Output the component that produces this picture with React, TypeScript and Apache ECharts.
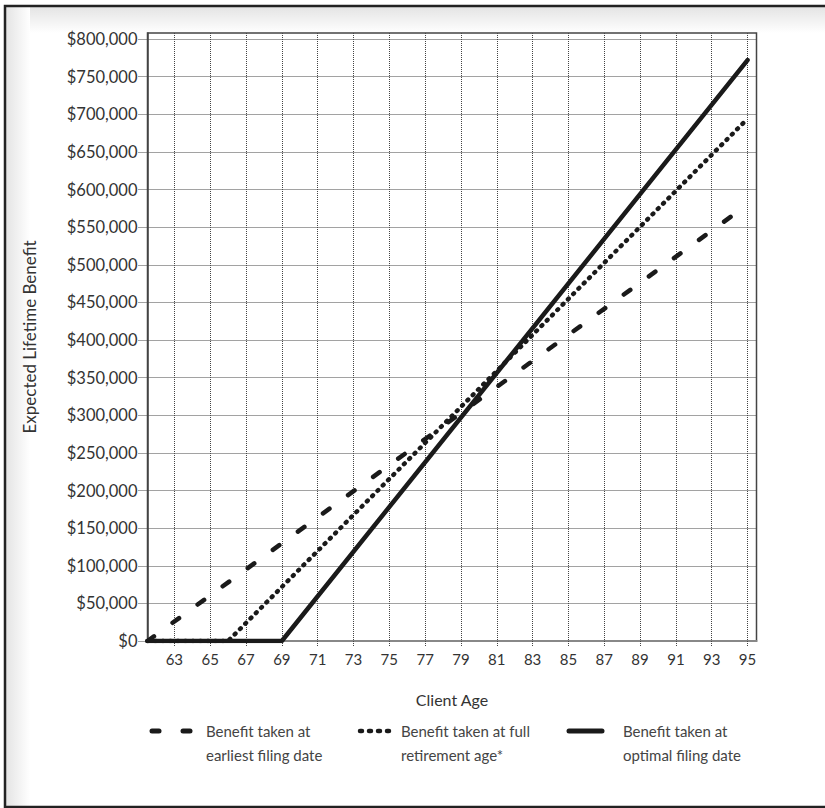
import React, { useEffect, useRef } from "react";
import * as echarts from "echarts";

const xTicks = [63, 65, 67, 69, 71, 73, 75, 77, 79, 81, 83, 85, 87, 89, 91, 93, 95];
const yTicks = [0, 50000, 100000, 150000, 200000, 250000, 300000, 350000, 400000, 450000, 500000, 550000, 600000, 650000, 700000, 750000, 800000];

const earliestAges = [61.5, 95];
const earliestValues = [0, 580000];
const fullAges = [61.5, 66, 95];
const fullValues = [0, 0, 694000];
const optimalAges = [61.5, 69, 95];
const optimalValues = [0, 0, 772000];

const legendLabels = [
  "Benefit taken at\nearliest filing date",
  "Benefit taken at full\nretirement age*",
  "Benefit taken at\noptimal filing date",
];

const FONT = "Lato, 'Open Sans', sans-serif";

function pairs(xs: number[], ys: number[]) {
  return xs.map((x, i) => [x, ys[i]]);
}

export default function App() {
  const ref = useRef<HTMLDivElement>(null);
  useEffect(() => {
    if (!ref.current) return;
    const chart = echarts.init(ref.current, undefined, { renderer: "svg" });
    const legendY = 731;
    const lh = 24;
    chart.setOption({
      animation: false,
      backgroundColor: "#ffffff",
      grid: {
        left: 147.5,
        top: 33,
        width: 609,
        height: 608,
        show: true,
        borderColor: "#444",
        borderWidth: 1.5,
        backgroundColor: "transparent",
      },
      xAxis: {
        type: "value",
        min: 61.5,
        max: 95.5,
        name: "Client Age",
        nameLocation: "middle",
        nameGap: 50,
        nameTextStyle: { fontFamily: FONT, fontSize: 16, color: "#333" },
        axisLine: { show: true, lineStyle: { color: "#888", width: 2 } },
        axisTick: {
          show: true,
          length: 5,
          customValues: xTicks,
          lineStyle: { color: "#444", type: "dotted", width: 1 },
        },
        axisLabel: {
          customValues: xTicks,
          fontFamily: FONT,
          fontSize: 15,
          color: "#333",
          margin: 10,
        },
        splitLine: { show: true, lineStyle: { color: "#444", type: "dotted", width: 1 } },
      },
      yAxis: {
        type: "value",
        min: 0,
        max: 808000,
        name: "Expected Lifetime Benefit",
        nameLocation: "middle",
        nameGap: 110,
        nameRotate: 90,
        nameTextStyle: { fontFamily: FONT, fontSize: 17, color: "#333" },
        axisLine: { show: true, lineStyle: { color: "#444", width: 1.5 } },
        axisTick: {
          show: true,
          length: 9,
          customValues: yTicks,
          lineStyle: { color: "#444", type: "dotted", width: 1 },
        },
        axisLabel: {
          customValues: yTicks,
          fontFamily: FONT,
          fontSize: 16.5,
          color: "#333",
          margin: 10,
          formatter: (v: number) => "$" + Math.round(v).toLocaleString("en-US"),
        },
        splitLine: { show: true, lineStyle: { color: "#444", type: "dotted", width: 1 } },
      },
      series: [
        {
          name: "earliest",
          type: "line",
          showSymbol: false,
          data: pairs(earliestAges, earliestValues),
          lineStyle: { color: "#1a1a1a", width: 4.5, type: [8, 23], cap: "round" },
          z: 3,
        },
        {
          name: "full",
          type: "line",
          showSymbol: false,
          data: pairs(fullAges, fullValues),
          lineStyle: { color: "#1a1a1a", width: 4.5, type: [1, 6.5], cap: "round" },
          z: 4,
        },
        {
          name: "optimal",
          type: "line",
          showSymbol: false,
          data: pairs(optimalAges, optimalValues),
          lineStyle: { color: "#1a1a1a", width: 4.5, cap: "round" },
          z: 5,
        },
      ],
      graphic: [
        {
          type: "rect",
          z: -10,
          shape: { x: 6, y: 7, width: 830, height: 26 },
          style: {
            fill: new echarts.graphic.LinearGradient(0, 0, 0, 1, [
              { offset: 0, color: "#e4e4e4" },
              { offset: 1, color: "#ffffff" },
            ]),
          },
        },
        {
          type: "rect",
          z: -10,
          shape: { x: 6, y: 7, width: 24, height: 800 },
          style: {
            fill: new echarts.graphic.LinearGradient(0, 0, 1, 0, [
              { offset: 0, color: "#e4e4e4" },
              { offset: 1, color: "#ffffff" },
            ]),
          },
        },
        {
          type: "rect",
          z: 10,
          shape: { x: 5, y: 6, width: 840, height: 801 },
          style: { fill: "none", stroke: "#222", lineWidth: 2.5 },
        },
        {
          type: "line",
          shape: { x1: 152, y1: legendY, x2: 159, y2: legendY },
          style: { stroke: "#1a1a1a", lineWidth: 5, lineCap: "round" },
        },
        {
          type: "line",
          shape: { x1: 183, y1: legendY, x2: 190, y2: legendY },
          style: { stroke: "#1a1a1a", lineWidth: 5, lineCap: "round" },
        },
        {
          type: "line",
          shape: { x1: 360, y1: legendY, x2: 392, y2: legendY },
          style: { stroke: "#1a1a1a", lineWidth: 4.5, lineCap: "round", lineDash: [2, 7] },
        },
        {
          type: "line",
          shape: { x1: 569, y1: legendY, x2: 602, y2: legendY },
          style: { stroke: "#1a1a1a", lineWidth: 5, lineCap: "round" },
        },
        {
          type: "text",
          x: 206,
          y: legendY - lh / 2,
          style: { text: legendLabels[0], font: `15px ${FONT}`, fill: "#444", lineHeight: lh, verticalAlign: "top" },
        },
        {
          type: "text",
          x: 401,
          y: legendY - lh / 2,
          style: { text: legendLabels[1], font: `15px ${FONT}`, fill: "#444", lineHeight: lh, verticalAlign: "top" },
        },
        {
          type: "text",
          x: 623,
          y: legendY - lh / 2,
          style: { text: legendLabels[2], font: `15px ${FONT}`, fill: "#444", lineHeight: lh, verticalAlign: "top" },
        },
      ],
    });
    return () => chart.dispose();
  }, []);
  return (
    <div
      ref={ref}
      style={{ position: "fixed", left: 0, top: 0, width: 825, height: 808 }}
    />
  );
}
